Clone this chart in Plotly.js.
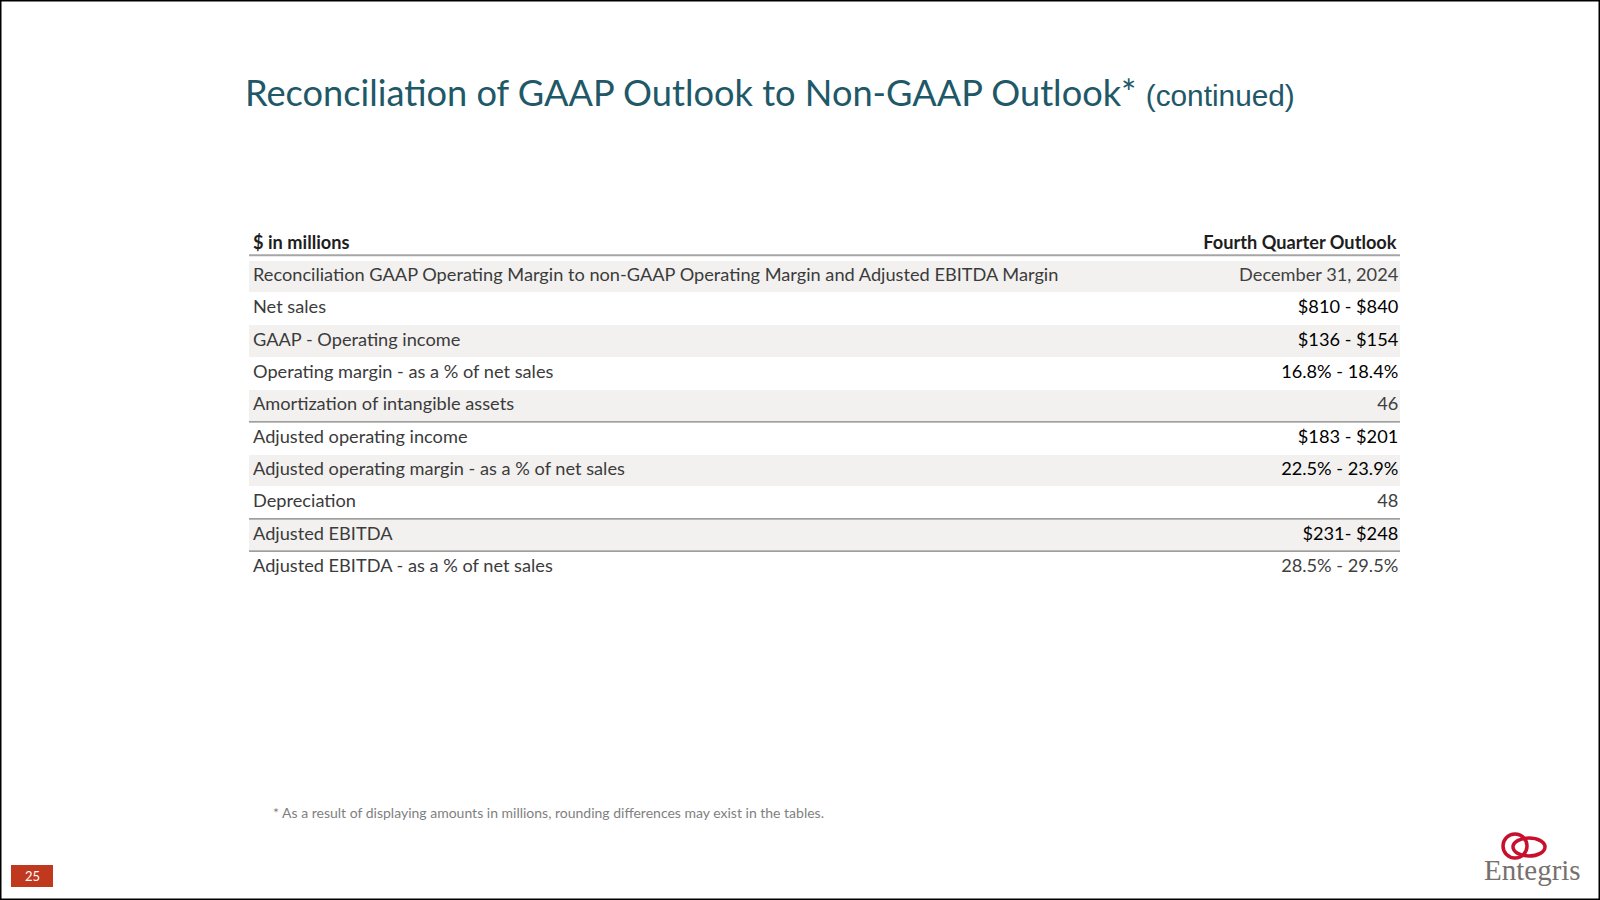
<!DOCTYPE html>
<html>
<head>
<meta charset="utf-8">
<script src="https://cdn.plot.ly/plotly-3.0.1.min.js"></script>
<style>
html,body{margin:0;padding:0;background:#fff;}
#chart{width:1600px;height:900px;}
</style>
</head>
<body>
<div id="chart"></div>
<script>
// ---- data ----
var columnHeaders = ["$ in millions", "Fourth Quarter Outlook"];
var rowLabels = [
  "Reconciliation GAAP Operating Margin to non-GAAP Operating Margin and Adjusted EBITDA Margin",
  "Net sales",
  "GAAP - Operating income",
  "Operating margin - as a % of net sales",
  "Amortization of intangible assets",
  "Adjusted operating income",
  "Adjusted operating margin - as a % of net sales",
  "Depreciation",
  "Adjusted EBITDA",
  "Adjusted EBITDA - as a % of net sales"
];
var rowValues = [
  "December 31, 2024",
  "$810 - $840",
  "$136 - $154",
  "16.8% - 18.4%",
  "46",
  "$183 - $201",
  "22.5% - 23.9%",
  "48",
  "$231- $248",
  "28.5% - 29.5%"
];
var titleMain = "Reconciliation of GAAP Outlook to Non-GAAP Outlook*";
var titleSuffix = "(continued)";
var footnote = "* As a result of displaying amounts in millions, rounding differences may exist in the tables.";
var pageNumber = "25";
var logoText = "Entegris";

// ---- styling helpers ----
var W = 1600, H = 900;
function px(x){ return x / W; }
function py(y){ return 1 - y / H; }

var bodyFont = "Lato, 'Open Sans', sans-serif";
var labelColor = "#3b3b3b";
var grayValues = {"December 31, 2024":1, "46":1, "48":1, "28.5% - 29.5%":1};

var nRows = rowLabels.length;
var rowY = rowLabels.map(function(_, i){ return i + 1; });
var valueColors = rowValues.map(function(v){ return grayValues[v] ? "#404040" : "#000000"; });

// shading every other row (starting with first body row)
var shadeY = rowY.filter(function(_, i){ return i % 2 === 0; });

var LX = 0.0035, RX = 0.9985;

var traces = [
  { // row shading
    type: "bar", orientation: "h",
    y: shadeY, x: shadeY.map(function(){ return 1; }), base: 0,
    width: 0.97, marker: {color: "#f2f1ef", line: {width: 0}},
    hoverinfo: "skip", showlegend: false
  },
  { // headers
    type: "scatter", mode: "text",
    x: [LX, RX - 0.0015], y: [0, 0],
    text: columnHeaders.map(function(t){ return "<b>" + t + "</b>"; }),
    textposition: ["middle right", "middle left"],
    textfont: {family: bodyFont, size: 18.2, color: "#1e1e1e"},
    hoverinfo: "skip", showlegend: false, cliponaxis: false
  },
  { // row labels
    type: "scatter", mode: "text",
    x: rowY.map(function(){ return LX; }), y: rowY,
    text: rowLabels, textposition: "middle right",
    textfont: {family: bodyFont, size: 18.2, color: labelColor},
    hoverinfo: "skip", showlegend: false, cliponaxis: false
  },
  { // values
    type: "scatter", mode: "text",
    x: rowY.map(function(){ return RX; }), y: rowY,
    text: rowValues, textposition: "middle left",
    textfont: {family: bodyFont, size: 18.2, color: valueColors},
    hoverinfo: "skip", showlegend: false, cliponaxis: false
  }
];

var ruleAfter = [0, 5, 8, 9];
var shapes = ruleAfter.map(function(r){
  var yy = r === 0 ? r + 0.34 : r + 0.5;
  return {type: "line", xref: "x", yref: "y", x0: 0, x1: 1, y0: yy, y1: yy,
          line: {color: r === 0 ? "#a6a6a6" : "#7f7f7f", width: r === 0 ? 2 : 1.3}};
});
// page frame
shapes.push({type: "rect", xref: "paper", yref: "paper", x0: 0, x1: 1, y0: 0, y1: 1,
             line: {color: "#000", width: 3}, fillcolor: "rgba(0,0,0,0)"});
// page number box
shapes.push({type: "rect", xref: "paper", yref: "paper", x0: px(11), x1: px(53), y0: py(887), y1: py(865),
             line: {width: 0}, fillcolor: "#c0391f"});
// logo rings
shapes.push({type: "circle", xref: "paper", yref: "paper", x0: px(1503), x1: px(1527), y0: py(858), y1: py(834),
             line: {color: "#c8102e", width: 3.5}, fillcolor: "rgba(0,0,0,0)"});
shapes.push({type: "circle", xref: "paper", yref: "paper", x0: px(1513), x1: px(1545), y0: py(856), y1: py(838),
             line: {color: "#c8102e", width: 3.5}, fillcolor: "rgba(0,0,0,0)"});

var annotations = [
  {xref: "paper", yref: "paper", x: px(271), y: py(812), xanchor: "left", yanchor: "middle",
   text: footnote, showarrow: false, font: {family: bodyFont, size: 14, color: "#7f7f7f"}},
  {xref: "paper", yref: "paper", x: px(32), y: py(876), xanchor: "center", yanchor: "middle",
   text: pageNumber, showarrow: false, font: {family: bodyFont, size: 13, color: "#ffffff"}},
  {xref: "paper", yref: "paper", x: px(1532), y: py(870), xanchor: "center", yanchor: "middle",
   text: logoText, showarrow: false, font: {family: "'Liberation Serif', 'DejaVu Serif', serif", size: 29, color: "#77706c"}}
];

var layout = {
  width: W, height: H,
  margin: {l: 0, r: 0, t: 0, b: 0, pad: 0},
  paper_bgcolor: "#ffffff", plot_bgcolor: "rgba(0,0,0,0)",
  title: {
    text: titleMain + " <span style=\"font-family:'Liberation Sans',Arial,sans-serif;font-size:29.8px\">" + titleSuffix + "</span>",
    font: {family: bodyFont, size: 36.2, color: "#215868"},
    x: px(245), xanchor: "left", xref: "paper",
    y: py(93), yanchor: "middle", yref: "paper"
  },
  xaxis: {domain: [px(249), px(1400)], range: [0, 1], visible: false, fixedrange: true},
  yaxis: {domain: [py(583.5), py(228)], range: [nRows + 0.5, -0.5], visible: false, fixedrange: true},
  bargap: 0,
  shapes: shapes,
  annotations: annotations,
  showlegend: false
};

Plotly.newPlot("chart", traces, layout, {staticPlot: true, displayModeBar: false});
</script>
</body>
</html>
